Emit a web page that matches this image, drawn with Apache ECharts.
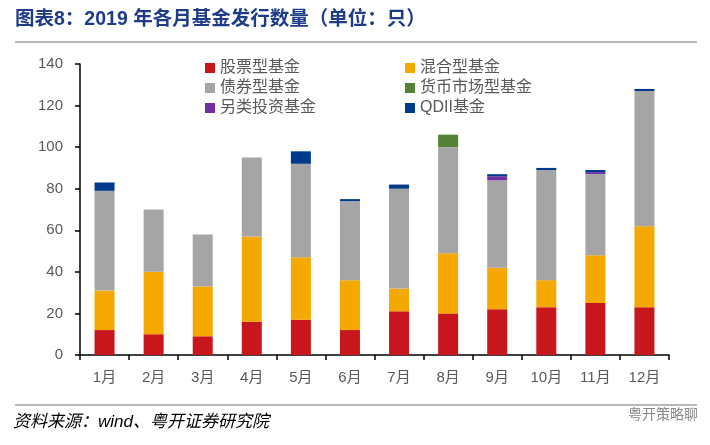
<!DOCTYPE html>
<html><head><meta charset="utf-8">
<script src="https://cdn.jsdelivr.net/npm/echarts@6/dist/echarts.min.js"></script>
<style>html,body{margin:0;padding:0;background:#fff}#c{width:710px;height:445px}</style>
</head><body><div id="c"></div>
<script>
const months = ['1月','2月','3月','4月','5月','6月','7月','8月','9月','10月','11月','12月'];
const stock  = [12,10,9,16,17,12,21,20,22,23,25,23];
const mixed  = [19,30,24,41,30,24,11,29,20,13,23,39];
const bond   = [48,30,25,38,45,38,48,51,42,53,39,65];
const money  = [0,0,0,0,0,0,0,6,0,0,0,0];
const alt    = [0,0,0,0,0,0,0,0,2,0,1,0];
const qdii   = [4,0,0,0,6,1,2,0,1,1,1,1];
const yTicks = [0,20,40,60,80,100,120,140];
const names = ['股票型基金','混合型基金','债券型基金','货币市场型基金','另类投资基金','QDII基金'];
const colors = ['#C8161D','#F5A800','#A5A5A5','#548235','#7030A0','#003A8C'];
const datas = [stock,mixed,bond,money,alt,qdii];

const chart = echarts.init(document.getElementById('c'));
const font = '"Liberation Sans", "Noto Sans CJK SC", sans-serif';
const legendText = {color:'#595959', fontSize:16, fontFamily:font};
chart.setOption({
  animation:false,
  textStyle:{fontFamily:font},
  grid:{left:80,right:41,top:64,bottom:90},
  legend:[
    {orient:'vertical',left:200,top:55,itemWidth:10,itemHeight:10,itemGap:4,icon:'rect',
     data:[names[0],names[2],names[4]],textStyle:legendText},
    {orient:'vertical',left:400,top:55,itemWidth:10,itemHeight:10,itemGap:4,icon:'rect',
     data:[names[1],names[3],names[5]],textStyle:legendText}
  ],
  xAxis:{type:'category',data:months,
    axisLine:{lineStyle:{color:'#000',width:1.5}},
    axisTick:{show:true,length:5,lineStyle:{color:'#000',width:1.5}},
    axisLabel:{color:'#595959',fontSize:15,margin:15,fontFamily:font}},
  yAxis:{type:'value',min:yTicks[0],max:yTicks[yTicks.length-1],interval:20,
    axisLine:{show:true,lineStyle:{color:'#000',width:1.5}},
    axisTick:{show:true,length:5,lineStyle:{color:'#000',width:1.5}},
    splitLine:{show:false},
    axisLabel:{color:'#595959',fontSize:15,margin:17,fontFamily:font}},
  series:datas.map((d,i)=>({
    name:names[i],type:'bar',stack:'total',barWidth:20,
    itemStyle:{color:colors[i]},data:d
  })),
  graphic:[
    {type:'text',left:15,top:10,style:{text:'图表8：2019 年各月基金发行数量（单位：只）',
      fill:'#1F3C88',font:'bold 19.5px "Liberation Sans", "Noto Sans CJK SC", sans-serif'}},
    {type:'line',shape:{x1:15,y1:42,x2:697,y2:42},style:{stroke:'#A0A0A0',lineWidth:1.5}},
    {type:'line',shape:{x1:15,y1:405,x2:697,y2:405},style:{stroke:'#A0A0A0',lineWidth:1.5}},
    {type:'text',left:13,top:414,style:{text:'资料来源：wind、粤开证券研究院',
      fill:'#000',font:'italic 17px "Liberation Sans", "Noto Sans CJK SC", sans-serif'}},
    {type:'text',left:628,top:407,style:{text:'粤开策略聊',
      fill:'#888',font:'14px "Noto Sans CJK SC", sans-serif'}}
  ]
});
</script></body></html>
